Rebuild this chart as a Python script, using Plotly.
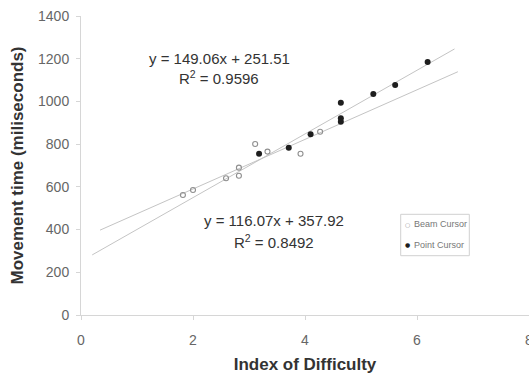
import plotly.graph_objects as go
import numpy as np

# ---- data ----
beam_x = [1.82, 2.00, 2.59, 2.82, 2.82, 3.11, 3.33, 3.92, 4.27]
beam_y = [562, 585, 640, 690, 652, 801, 765, 755, 858]
point_x = [3.18, 3.71, 4.10, 4.64, 4.64, 4.64, 5.22, 5.61, 6.19]
point_y = [755, 783, 846, 994, 921, 905, 1035, 1077, 1185]

# trendlines (slope, intercept, extent)
point_fit = (149.06, 251.51)
point_fit_range = [0.20, 6.67]
beam_fit = (116.07, 357.92)
beam_fit_range = [0.34, 6.73]

x_ticks = [0, 2, 4, 6, 8]
y_ticks = [0, 200, 400, 600, 800, 1000, 1200, 1400]

W, H = 529, 374
L, R, T, B = 81, 0, 16, 59
pw, ph = W - L - R, H - T - B

def px(x):
    return (x - L) / pw

def py(y):
    return (T + ph - y) / ph

fig = go.Figure()

for (m, b), rng in [(point_fit, point_fit_range), (beam_fit, beam_fit_range)]:
    xs = np.array(rng)
    fig.add_trace(go.Scatter(x=xs, y=m * xs + b, mode="lines",
                             line=dict(color="#c4c4c4", width=1),
                             showlegend=False, hoverinfo="skip"))

fig.add_trace(go.Scatter(x=beam_x, y=beam_y, mode="markers", name="Beam Cursor",
                         marker=dict(symbol="circle-open", size=5, color="#8f8f8f",
                                     line=dict(width=1.1, color="#8f8f8f")),
                         showlegend=False))
fig.add_trace(go.Scatter(x=point_x, y=point_y, mode="markers", name="Point Cursor",
                         marker=dict(symbol="circle", size=6, color="#1e1e1e"),
                         showlegend=False))

axis_common = dict(showgrid=False, zeroline=False, showline=True, linecolor="#d6d6d6",
                   linewidth=1, ticks="outside", ticklen=4, tickcolor="#d6d6d6",
                   ticklabeloverflow="allow",
                   tickfont=dict(family="Liberation Sans, Arial", size=14, color="#666666"))

fig.update_xaxes(range=[0, 8], tickvals=x_ticks, ticklabelstandoff=8,
                 title=dict(text="<b>Index of Difficulty</b>", standoff=12,
                            font=dict(family="Liberation Sans, Arial", size=17, color="#333333")),
                 **axis_common)
fig.update_yaxes(range=[0, 1400], tickvals=y_ticks, ticklabelstandoff=4,
                 title=dict(text="<b>Movement time (miliseconds)</b>", standoff=10,
                            font=dict(family="Liberation Sans, Arial", size=17, color="#333333")),
                 **axis_common)

eq_font = dict(family="Liberation Sans, Arial", size=15, color="#333333")
annots = [
    (219, 58, "y = 149.06x + 251.51"),
    (219, 77, "R<sup>2</sup> = 0.9596"),
    (274, 220, "y = 116.07x + 357.92"),
    (274, 242, "R<sup>2</sup> = 0.8492"),
]
for x, y, t in annots:
    fig.add_annotation(x=px(x), y=py(y), xref="paper", yref="paper", text=t,
                       showarrow=False, font=eq_font, xanchor="center", yanchor="middle")

# legend box
fig.add_shape(type="rect", xref="paper", yref="paper",
              x0=px(400.7), x1=px(469.3), y0=py(255.7), y1=py(214.3),
              line=dict(color="#d0d0d0", width=1), fillcolor="white")
leg_font = dict(family="Liberation Sans, Arial", size=9, color="#777777")
legend_items = [("Beam Cursor", "○", "#8f8f8f", 224), ("Point Cursor", "●", "#1e1e1e", 245)]
for name, sym, col, yy in legend_items:
    fig.add_annotation(x=px(407.7), y=py(yy), xref="paper", yref="paper", text=sym,
                       showarrow=False, xanchor="center", yanchor="middle",
                       font=dict(family="DejaVu Sans", size=6, color=col))
    fig.add_annotation(x=px(412), y=py(yy), xref="paper", yref="paper", text=name,
                       showarrow=False, font=leg_font, xanchor="left", yanchor="middle")

fig.update_layout(width=W, height=H, margin=dict(l=L, r=R, t=T, b=B, autoexpand=False),
                  paper_bgcolor="white", plot_bgcolor="white", showlegend=False)

fig.write_html("out.html")
